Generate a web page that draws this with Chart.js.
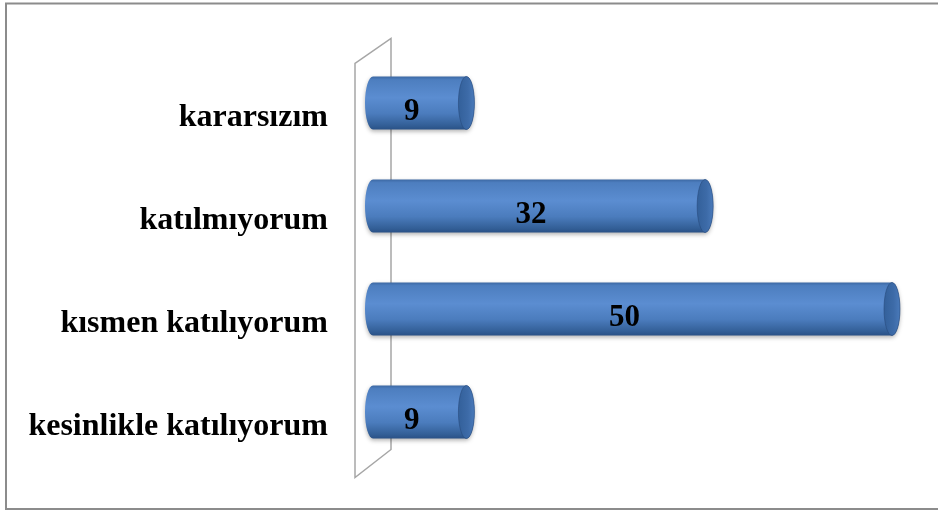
<!DOCTYPE html>
<html>
<head>
<meta charset="utf-8">
<script src="https://cdn.jsdelivr.net/npm/chart.js@4"></script>
<style>
    html, body { margin: 0; padding: 0; background: #fff; }
    #wrap { width: 938px; height: 511px; }
</style>
</head>
<body>
<div id="wrap"><canvas id="barChart" width="938" height="511"></canvas></div>
<script>
const categories = ['kararsızım', 'katılmıyorum', 'kısmen katılıyorum', 'kesinlikle katılıyorum']
const responses = [9, 32, 50, 9]

const labelFont = { family: '"Liberation Serif", "Times New Roman", serif', size: 32, weight: 'bold' }

// frame + the 3d back wall behind the bars
const framePlugin = {
    id: 'frame',
    beforeDraw(chart) {
        const ctx = chart.ctx
        ctx.save()
        ctx.fillStyle = '#fff'
        ctx.fillRect(0, 0, chart.width, chart.height)
        ctx.strokeStyle = '#8c8c8c'
        ctx.lineWidth = 2
        ctx.beginPath()
        ctx.moveTo(938, 3.5)
        ctx.lineTo(6, 3.5)
        ctx.lineTo(6, 509)
        ctx.lineTo(938, 509)
        ctx.stroke()
        ctx.restore()
    },
    beforeDatasetsDraw(chart) {
        const ctx = chart.ctx
        const a = chart.chartArea
        ctx.save()
        ctx.strokeStyle = '#a6a6a6'
        ctx.lineWidth = 1.5
        ctx.beginPath()
        ctx.moveTo(a.left + 18, a.top - 13)
        ctx.lineTo(a.left + 18, a.bottom - 14)
        ctx.lineTo(a.left - 18, a.bottom + 14)
        ctx.lineTo(a.left - 18, a.top + 12)
        ctx.closePath()
        ctx.stroke()
        ctx.restore()
    }
}

// draws each bar as a cylinder, then the value on it
const cylinderPlugin = {
    id: 'cylinder',
    afterDatasetsDraw(chart) {
        const ctx = chart.ctx
        const meta = chart.getDatasetMeta(0)
        const rx = 8
        meta.data.forEach((bar, i) => {
            const p = bar.getProps(['x', 'y', 'base', 'height'], true)
            const top = p.y - p.height / 2
            const bottom = p.y + p.height / 2
            const ry = p.height / 2

            let grad = ctx.createLinearGradient(0, top, 0, bottom)
            grad.addColorStop(0, '#3c68a3')
            grad.addColorStop(0.06, '#4d7ebf')
            grad.addColorStop(0.4, '#5b8dd1')
            grad.addColorStop(0.7, '#4b7cbd')
            grad.addColorStop(0.92, '#335f97')
            grad.addColorStop(1, '#2a5186')

            ctx.save()
            ctx.shadowColor = 'rgba(0,0,0,0.3)'
            ctx.shadowBlur = 4
            ctx.shadowOffsetY = 2
            ctx.beginPath()
            ctx.moveTo(p.base, top)
            ctx.lineTo(p.x, top)
            ctx.ellipse(p.x, p.y, rx, ry, 0, -Math.PI / 2, Math.PI / 2)
            ctx.lineTo(p.base, bottom)
            ctx.ellipse(p.base, p.y, rx, ry, 0, Math.PI / 2, Math.PI * 1.5)
            ctx.closePath()
            ctx.fillStyle = grad
            ctx.fill()
            ctx.restore()

            // end cap
            let capGrad = ctx.createLinearGradient(p.x - rx, 0, p.x + rx, 0)
            capGrad.addColorStop(0, '#33609a')
            capGrad.addColorStop(0.6, '#3d6ba8')
            capGrad.addColorStop(1, '#4a7aba')
            ctx.save()
            ctx.beginPath()
            ctx.ellipse(p.x, p.y, rx, ry, 0, 0, Math.PI * 2)
            ctx.fillStyle = capGrad
            ctx.fill()
            ctx.strokeStyle = 'rgba(40,75,125,0.6)'
            ctx.lineWidth = 1
            ctx.stroke()
            ctx.restore()

            // value label
            ctx.save()
            ctx.font = 'bold 31px "Liberation Serif", "Times New Roman", serif'
            ctx.fillStyle = '#000'
            ctx.textAlign = 'center'
            ctx.textBaseline = 'alphabetic'
            ctx.fillText(String(responses[i]), (p.base + p.x) / 2 - rx, p.y + 17)
            ctx.restore()
        })
    }
}

document.addEventListener('DOMContentLoaded', function() {
    let barData = {
        labels: categories,
        datasets: [{
            data: responses,
            backgroundColor: 'rgba(0,0,0,0)',
            borderWidth: 0,
            categoryPercentage: 1,
            barPercentage: 0.515
        }]
    }

    let barOptions = {
        indexAxis: 'y',
        responsive: false,
        animation: false,
        layout: {
            padding: { top: 51.5, bottom: 47.5, left: 0, right: 46 }
        },
        plugins: {
            legend: { display: false },
            tooltip: { enabled: false }
        },
        scales: {
            x: {
                display: false,
                min: 0,
                max: 50
            },
            y: {
                grid: { display: false, drawTicks: false },
                border: { display: false },
                ticks: {
                    color: '#000',
                    font: labelFont,
                    padding: 45,
                    labelOffset: 15
                },
                afterFit(scale) {
                    scale.width = 373
                    scale.paddingTop = 0
                    scale.paddingBottom = 0
                }
            }
        }
    }

    new Chart(document.getElementById('barChart'), {
        type: 'bar',
        data: barData,
        options: barOptions,
        plugins: [framePlugin, cylinderPlugin]
    })
})
</script>
</body>
</html>
